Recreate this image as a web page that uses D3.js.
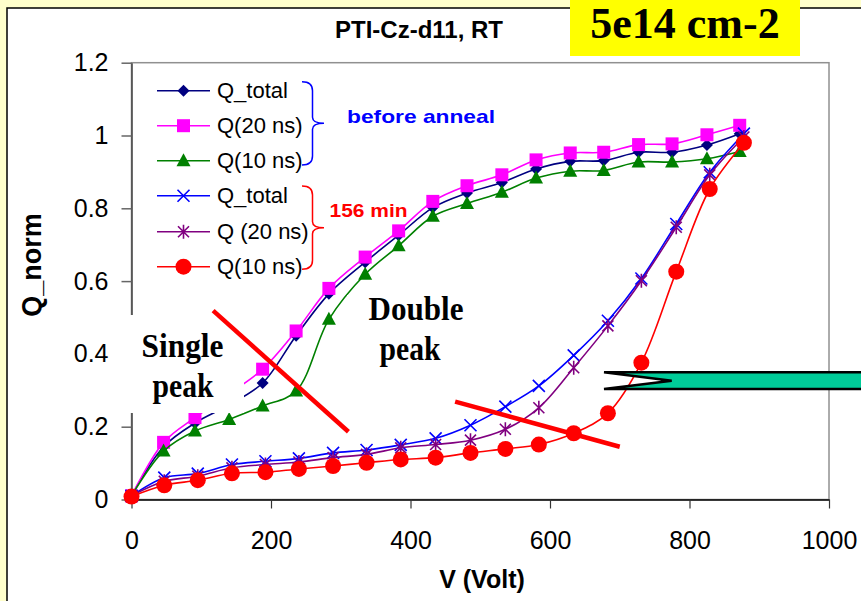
<!DOCTYPE html>
<html>
<head>
<meta charset="utf-8">
<script src="https://cdnjs.cloudflare.com/ajax/libs/d3/7.8.5/d3.min.js"></script>
<style>
body { margin: 0; background: #ffffcc; }
svg { display: block; }
</style>
</head>
<body>
<div id="chart"></div>
<script>
// voltages (two measurement runs)
var vBefore = [0, 46, 91, 140, 188, 236, 283, 335, 383, 432, 481, 531, 580, 629, 677, 727, 775, 825, 872];
var vAfter = [0, 47, 95, 144, 192, 240, 289, 337, 386, 436, 486, 536, 584, 634, 683, 731, 781, 829, 878];

// before anneal
var qTotalBefore = [0.01, 0.145, 0.21, 0.26, 0.32, 0.45, 0.565, 0.652, 0.726, 0.802, 0.842, 0.871, 0.908, 0.929, 0.931, 0.954, 0.954, 0.974, 1.005];
var q20Before = [0.01, 0.157, 0.225, 0.29, 0.358, 0.463, 0.58, 0.666, 0.738, 0.819, 0.862, 0.892, 0.933, 0.952, 0.954, 0.975, 0.977, 1.002, 1.028];
var q10Before = [0.01, 0.133, 0.188, 0.22, 0.257, 0.298, 0.495, 0.619, 0.697, 0.778, 0.813, 0.844, 0.883, 0.902, 0.904, 0.927, 0.927, 0.936, 0.956];

// after 156 min anneal
var qTotalAfter = [0.01, 0.06, 0.071, 0.096, 0.105, 0.113, 0.128, 0.136, 0.15, 0.168, 0.204, 0.255, 0.312, 0.396, 0.491, 0.607, 0.757, 0.899, 1.005];
var q20After = [0.01, 0.05, 0.064, 0.087, 0.096, 0.103, 0.115, 0.124, 0.142, 0.151, 0.163, 0.193, 0.252, 0.362, 0.477, 0.601, 0.748, 0.892, 0.996];
var q10After = [0.008, 0.039, 0.053, 0.072, 0.075, 0.084, 0.092, 0.101, 0.11, 0.115, 0.128, 0.139, 0.151, 0.182, 0.237, 0.376, 0.626, 0.853, 0.98];

var seriesNames = ["Q_total", "Q(20 ns)", "Q(10 ns)", "Q_total", "Q (20 ns)", "Q(10 ns)"];
var xTicks = [0, 200, 400, 600, 800, 1000];
var yTicks = [0, 0.2, 0.4, 0.6, 0.8, 1, 1.2];

// the two red "cut" lines, in data units
var cutLines = [[[117, 0.519], [311, 0.186]], [[464, 0.269], [700, 0.145]]];

var W = 861, H = 601;
var svg = d3.select("#chart").append("svg")
	.attr("width", W)
	.attr("height", H);

svg.append("rect")
	.attr("x", 7).attr("y", 8)
	.attr("width", 900).attr("height", 700)
	.attr("fill", "#fff")
	.attr("stroke", "#000")
	.attr("stroke-width", 1.5);

var x = d3.scaleLinear().domain([0, 1000]).range([131.5, 829]);
var y = d3.scaleLinear().domain([0, 1.2]).range([499.5, 62.7]);

// plot frame
svg.append("rect")
	.attr("x", x(0)).attr("y", y(1.2))
	.attr("width", x(1000) - x(0)).attr("height", y(0) - y(1.2))
	.attr("fill", "none")
	.attr("stroke", "#909090")
	.attr("stroke-width", 1.5);

var yAxis = svg.append("g")
	.attr("transform", "translate(" + x(0) + ",0)")
	.call(d3.axisLeft(y).tickValues(yTicks).tickSize(10).tickSizeOuter(0).tickPadding(13).tickFormat(d3.format("~g")));
yAxis.select(".domain").attr("stroke", "#444").attr("stroke-width", 1.5);
yAxis.selectAll(".tick line").attr("stroke", "#666").attr("stroke-width", 1.5);
yAxis.selectAll("text").attr("font-family", "Liberation Sans, Arial").attr("font-size", 25).attr("fill", "#000");

var xAxis = svg.append("g")
	.attr("transform", "translate(0," + y(0) + ")")
	.call(d3.axisBottom(x).tickValues(xTicks).tickSize(9).tickSizeOuter(0).tickPadding(23).tickFormat(d3.format("d")));
xAxis.select(".domain").attr("stroke", "#000").attr("stroke-width", 1.5);
xAxis.selectAll(".tick line").attr("stroke", "#333").attr("stroke-width", 1.2);
xAxis.selectAll("text").attr("font-family", "Liberation Sans, Arial").attr("font-size", 25).attr("fill", "#000");

svg.append("text")
	.attr("x", 482).attr("y", 588)
	.attr("text-anchor", "middle")
	.attr("font-family", "Liberation Sans, Arial").attr("font-weight", "bold").attr("font-size", 25)
	.text("V (Volt)");

svg.append("text")
	.attr("transform", "translate(41,265) rotate(-90)")
	.attr("text-anchor", "middle")
	.attr("font-family", "Liberation Sans, Arial").attr("font-weight", "bold").attr("font-size", 27)
	.text("Q_norm");

svg.append("text")
	.attr("x", 419).attr("y", 38)
	.attr("text-anchor", "middle")
	.attr("font-family", "Liberation Sans, Arial").attr("font-weight", "bold").attr("font-size", 24)
	.text("PTI-Cz-d11, RT");

var series = [
	{ v: vBefore, q: qTotalBefore, color: "#000080", marker: "diamond" },
	{ v: vBefore, q: q20Before, color: "#ff00ff", marker: "square" },
	{ v: vBefore, q: q10Before, color: "#008000", marker: "triangle" },
	{ v: vAfter, q: qTotalAfter, color: "#0000ff", marker: "cross" },
	{ v: vAfter, q: q20After, color: "#800080", marker: "star" },
	{ v: vAfter, q: q10After, color: "#ff0000", marker: "circle" }
];

function drawMarker(g, type, color) {
	if (type == "diamond") {
		g.append("path").attr("d", "M0,-6L6,0L0,6L-6,0Z").attr("fill", color);
	} else if (type == "square") {
		g.append("rect").attr("x", -6.5).attr("y", -6.5).attr("width", 13).attr("height", 13).attr("fill", color);
	} else if (type == "triangle") {
		g.append("path").attr("d", "M0,-7.5L7,5.5L-7,5.5Z").attr("fill", color);
	} else if (type == "cross") {
		g.append("path").attr("d", "M-6,-6L6,6M-6,6L6,-6").attr("stroke", color).attr("stroke-width", 1.6);
	} else if (type == "star") {
		g.append("path").attr("d", "M-5.5,-5.5L5.5,5.5M-5.5,5.5L5.5,-5.5M0,-7L0,7").attr("stroke", color).attr("stroke-width", 1.6);
	} else {
		g.append("circle").attr("r", 8).attr("fill", color);
	}
}

var line = d3.line()
	.x(function(d) { return x(d[0]); })
	.y(function(d) { return y(d[1]); })
	.curve(d3.curveCatmullRom.alpha(0.5));

series.forEach(function(s) {
	var pts = s.v.map(function(v, i) { return [v, s.q[i]]; });
	svg.append("path")
		.datum(pts)
		.attr("d", line)
		.attr("fill", "none")
		.attr("stroke", s.color)
		.attr("stroke-width", 1.6);
	svg.append("g").selectAll("g")
		.data(pts)
		.enter().append("g")
		.attr("transform", function(d) { return "translate(" + x(d[0]) + "," + y(d[1]) + ")"; })
		.each(function() { drawMarker(d3.select(this), s.marker, s.color); });
});

// white text boxes cover the lines
svg.append("rect").attr("x", 115).attr("y", 315).attr("width", 129).attr("height", 98).attr("fill", "#fff");
svg.append("rect").attr("x", 347).attr("y", 295).attr("width", 125).attr("height", 78).attr("fill", "#fff");

function serifText(txt, cx, by, len) {
	svg.append("text")
		.attr("x", cx - len / 2).attr("y", by)
		.attr("textLength", len).attr("lengthAdjust", "spacingAndGlyphs")
		.attr("font-family", "Liberation Serif, Times New Roman").attr("font-weight", "bold").attr("font-size", 34)
		.text(txt);
}
serifText("Single", 182.5, 357, 82);
serifText("peak", 183, 397, 61);
serifText("Double", 416, 320, 95);
serifText("peak", 410, 360, 61);

cutLines.forEach(function(c) {
	svg.append("line")
		.attr("x1", x(c[0][0])).attr("y1", y(c[0][1]))
		.attr("x2", x(c[1][0])).attr("y2", y(c[1][1]))
		.attr("stroke", "#ff0000")
		.attr("stroke-width", 4.5);
});

// legend
var legendY = [90.7, 125.7, 160.7, 195.7, 231.7, 266.7];
series.forEach(function(s, i) {
	var g = svg.append("g").attr("transform", "translate(0," + legendY[i] + ")");
	g.append("line").attr("x1", 157).attr("x2", 210).attr("stroke", s.color).attr("stroke-width", 1.6);
	drawMarker(g.append("g").attr("transform", "translate(183.5,0)"), s.marker, s.color);
	g.append("text")
		.attr("x", 217).attr("y", 7)
		.attr("font-family", "Liberation Sans, Arial").attr("font-size", 22)
		.text(seriesNames[i]);
});

function brace(xl, xm, y0, y1, tipX, color) {
	var ym = (y0 + y1) / 2;
	var p = "M" + xl + "," + y0 + "Q" + xm + "," + y0 + " " + xm + "," + (y0 + 9) +
		"L" + xm + "," + (ym - 6) + "Q" + xm + "," + ym + " " + tipX + "," + ym +
		"Q" + xm + "," + ym + " " + xm + "," + (ym + 6) +
		"L" + xm + "," + (y1 - 9) + "Q" + xm + "," + y1 + " " + xl + "," + y1;
	svg.append("path").attr("d", p).attr("fill", "none").attr("stroke", color).attr("stroke-width", 1.5);
}
brace(302, 312.5, 81.7, 165, 324, "#0000ff");
brace(302, 312.5, 186, 269.3, 324, "#ff0000");

svg.append("text")
	.attr("x", 347).attr("y", 123.3)
	.attr("textLength", 148).attr("lengthAdjust", "spacingAndGlyphs")
	.attr("font-family", "Liberation Sans, Arial").attr("font-weight", "bold").attr("font-size", 19)
	.attr("fill", "#0000ff")
	.text("before anneal");

svg.append("text")
	.attr("x", 329.5).attr("y", 217.3)
	.attr("textLength", 78).attr("lengthAdjust", "spacingAndGlyphs")
	.attr("font-family", "Liberation Sans, Arial").attr("font-weight", "bold").attr("font-size", 19)
	.attr("fill", "#ff0000")
	.text("156 min");

// notched arrow on the right
svg.append("path")
	.attr("d", "M604,372.3L875,372.3L875,389L604,389L671.7,380.7Z")
	.attr("fill", "#00cc99")
	.attr("stroke", "#000")
	.attr("stroke-width", 2.5)
	.attr("stroke-linejoin", "miter");

// fluence label
svg.append("rect").attr("x", 570).attr("y", 0).attr("width", 230).attr("height", 56).attr("fill", "#ffff00");
svg.append("text")
	.attr("x", 685).attr("y", 38)
	.attr("text-anchor", "middle")
	.attr("font-family", "Liberation Serif, Times New Roman").attr("font-weight", "bold").attr("font-size", 44)
	.text("5e14 cm-2");
</script>
</body>
</html>
